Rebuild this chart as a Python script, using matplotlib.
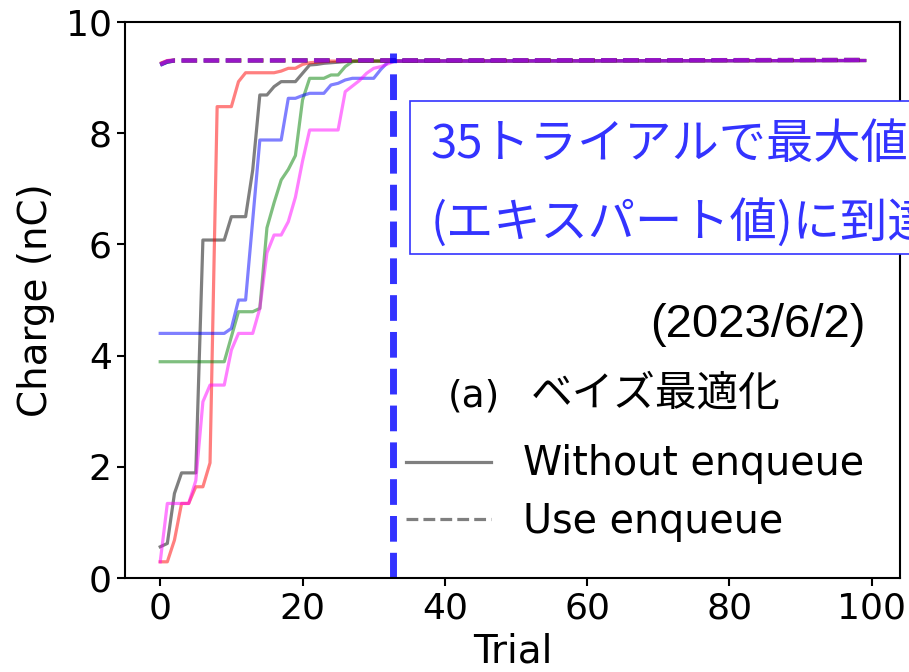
import matplotlib
matplotlib.use("Agg")
import matplotlib.pyplot as plt
from matplotlib.lines import Line2D
from matplotlib.patches import Rectangle

# best charge so far per trial (trials 0..35, then the last trial)
trials = list(range(36)) + [99]

gray_run = [0.56, 0.62, 1.52, 1.89, 1.89, 1.89, 6.08, 6.08, 6.08, 6.08,
            6.50, 6.50, 6.50, 7.34, 8.69, 8.69, 8.84, 8.93, 8.93, 8.93,
            9.08, 9.23, 9.24, 9.26, 9.27, 9.28, 9.29, 9.30, 9.30, 9.30,
            9.30, 9.30, 9.30, 9.30, 9.30, 9.30, 9.31]
red_run = [0.29, 0.29, 0.68, 1.34, 1.34, 1.64, 1.64, 2.07, 8.48, 8.48,
           8.48, 8.93, 9.09, 9.09, 9.09, 9.09, 9.09, 9.12, 9.17, 9.17,
           9.24, 9.27, 9.28, 9.29, 9.30, 9.30, 9.30, 9.30, 9.30, 9.30,
           9.30, 9.30, 9.30, 9.30, 9.30, 9.30, 9.31]
green_run = [3.89, 3.89, 3.89, 3.89, 3.89, 3.89, 3.89, 3.89, 3.89, 3.89,
             4.34, 4.79, 4.79, 4.79, 4.85, 6.30, 6.75, 7.16, 7.35, 7.60,
             8.60, 8.99, 8.99, 8.99, 9.05, 9.05, 9.20, 9.29, 9.30, 9.30,
             9.30, 9.30, 9.30, 9.30, 9.30, 9.30, 9.31]
blue_run = [4.40, 4.40, 4.40, 4.40, 4.40, 4.40, 4.40, 4.40, 4.40, 4.40,
            4.49, 5.00, 5.00, 6.44, 7.88, 7.88, 7.88, 7.88, 8.63, 8.63,
            8.68, 8.72, 8.72, 8.72, 8.87, 8.90, 8.96, 8.99, 8.99, 8.99,
            8.99, 9.15, 9.28, 9.30, 9.30, 9.30, 9.31]
magenta_run = [0.29, 1.34, 1.34, 1.34, 1.34, 1.75, 3.17, 3.47, 3.47, 3.47,
               4.10, 4.40, 4.40, 4.40, 4.85, 5.85, 6.17, 6.17, 6.41, 6.85,
               7.50, 8.06, 8.06, 8.06, 8.06, 8.06, 8.75, 8.85, 8.95, 9.08,
               9.17, 9.20, 9.25, 9.30, 9.30, 9.30, 9.31]

# runs with enqueue start almost at the top
enq_trials = [0, 1, 2, 99]
gray_enq = [9.24, 9.29, 9.31, 9.32]
red_enq = [9.25, 9.30, 9.31, 9.32]
green_enq = [9.24, 9.29, 9.31, 9.32]
blue_enq = [9.23, 9.29, 9.31, 9.32]
magenta_enq = [9.24, 9.30, 9.31, 9.32]

colors = ["black", "red", "green", "blue", "magenta"]
runs = [gray_run, red_run, green_run, blue_run, magenta_run]
enq_runs = [gray_enq, red_enq, green_enq, blue_enq, magenta_enq]

expert_trial = 32.7
note_blue = (0.2, 0.2, 1.0)

fig = plt.figure(figsize=(9.09, 6.72), dpi=100)
ax = fig.add_axes([0.1375, 0.140, 0.8525, 0.827])

for c, r in zip(colors, runs):
    ax.plot(trials, r, color=c, alpha=0.5, lw=2.3)
for c, r in zip(colors, enq_runs):
    ax.plot(enq_trials, r, color=c, alpha=0.5, lw=3.0, ls="--")

ax.plot([expert_trial, expert_trial], [0, 9.45], color="blue", alpha=0.8,
        lw=5, ls="--")

ax.set_ylim(0, 10)
ax.set_xlim(-4.95, 103.95)
ax.set_xticks([0, 20, 40, 60, 80, 100])
ax.set_yticks([0, 2, 4, 6, 8, 10])
ax.tick_params(labelsize=26, width=1.5, length=6)
for s in ax.spines.values():
    s.set_linewidth(1.5)
ax.set_xlabel("Trial", fontsize=28, labelpad=5)
ax.set_ylabel("Charge (nC)", fontsize=28, labelpad=8)

handles = [Line2D([], [], color="black", alpha=0.5, lw=2.3),
           Line2D([], [], color="black", alpha=0.5, lw=2.3, ls="--")]
ax.legend(handles, ["Without enqueue", "Use enqueue"], fontsize=28.5,
          frameon=False, loc="lower right", bbox_to_anchor=(1.0, 0.0),
          handlelength=2.15, handletextpad=0.8, labelspacing=0.45)

ax.text(0.955, 0.455, "(2023/6/2)", transform=ax.transAxes, fontsize=34,
        family="Liberation Sans", ha="right", va="center")
ax.text(448 / 909, 1 - 396 / 672, "(a)", transform=fig.transFigure,
        fontsize=27, ha="left", va="center")
ax.text(531 / 909, 1 - 394 / 672, "ベイズ最適化", transform=fig.transFigure,
        fontsize=30, family=["Noto Sans CJK JP", "DejaVu Sans"],
        ha="left", va="center")

# note box, running off the right edge of the figure
fig.patches.append(Rectangle((410 / 909, 1 - 254 / 672), 0.6, 153 / 672,
                             transform=fig.transFigure, fc="white",
                             ec=note_blue, lw=1.2))
fig.text(431 / 909, 1 - 184 / 672, "35トライアルで最大値に\n(エキスパート値)に到達",
         fontsize=34, family=["Noto Sans CJK JP", "DejaVu Sans"],
         color=note_blue, ha="left", va="center", linespacing=1.8)

fig.savefig("out.png", dpi=100)
